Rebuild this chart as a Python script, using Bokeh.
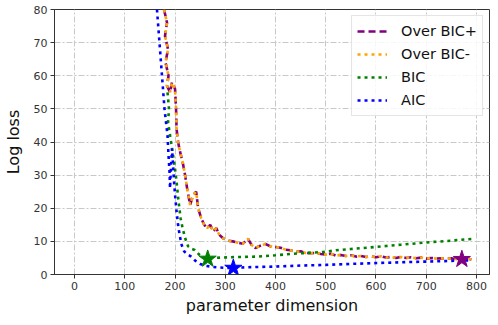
from bokeh.plotting import figure
from bokeh.models import Range1d, FixedTicker, Legend, LegendItem
from bokeh.embed import file_html
from bokeh.resources import INLINE

# ---- data ----
over_plus_x = [178, 184, 180, 186, 181, 187, 184, 190, 194, 200, 202, 203, 206, 210, 215, 220, 224, 230,
               236, 242, 246, 252, 258, 264, 270, 276, 282, 288, 295, 305, 315, 325, 335, 345, 352, 360,
               370, 380, 390, 400, 410, 420, 430, 440, 450, 460, 470, 480, 490, 500, 510, 520, 530, 540,
               550, 560, 570, 580, 590, 600, 610, 620, 630, 640, 650, 660, 670, 680, 690, 700, 710, 720,
               730, 740, 750, 760, 771, 780, 790]
over_plus_y = [80, 76, 72, 68, 64, 60, 57, 55, 58, 56, 50, 44, 40, 37, 34, 30, 26, 21,
               24, 25, 20, 17, 15, 14, 15, 13, 14, 12, 11, 10.2, 10, 9.6, 9.3, 10.8, 9, 8,
               8.7, 9.2, 8.5, 8.3, 8.1, 7.5, 7.3, 6.8, 7.0, 6.5, 6.4, 6.5, 6.2, 6.0, 6.3, 5.7, 5.9, 5.6,
               5.8, 5.4, 5.6, 5.3, 5.5, 5.2, 5.5, 5.1, 5.3, 5.0, 5.3, 5.0, 5.2, 4.9, 5.1, 4.8, 5.0, 4.8,
               4.9, 4.7, 4.9, 4.6, 4.6, 4.8, 4.5]

over_minus_x = over_plus_x
over_minus_y = [80, 76, 72, 68, 64, 60, 57, 55, 58, 56, 50, 44, 40, 37, 34, 30, 26, 21,
                24, 25, 20, 17, 15, 14, 15, 13, 14, 12, 11, 10.2, 10, 9.6, 9.3, 10.8, 9, 8,
                8.7, 9.2, 8.5, 8.3, 8.1, 7.5, 7.3, 6.8, 7.0, 6.5, 6.4, 6.5, 6.2, 6.0, 6.3, 5.7, 5.9, 5.6,
                5.8, 5.4, 5.6, 5.3, 5.5, 5.2, 5.5, 5.1, 5.3, 5.0, 5.3, 5.0, 5.2, 4.9, 5.1, 4.8, 5.0, 4.8,
                4.9, 4.7, 4.9, 4.6, 4.6, 4.8, 4.5]

bic_x = [185, 188, 186, 192, 196, 199, 203, 207, 211, 215, 220, 226, 232, 239, 248, 256, 265, 275,
         290, 310, 330, 363, 400, 430, 460, 494, 520, 550, 590, 620, 650, 680, 710, 740, 770, 790]
bic_y = [55, 50, 46, 40, 36, 33, 28, 22, 17, 14, 11, 8.5, 7.8, 7.4, 6.0, 5.2, 4.8, 5.0,
         5.1, 5.2, 5.3, 5.4, 5.8, 6.2, 6.5, 6.8, 7.3, 7.7, 8.2, 8.6, 9.0, 9.4, 9.8, 10.1, 10.5, 10.7]

aic_x = [164, 167, 170, 173, 176, 179, 182, 185, 187, 189, 190, 192, 194, 196, 198, 200, 203, 206,
         209, 213, 218, 224, 232, 240, 250, 262, 275, 290, 305, 316, 344, 363, 400, 450, 500, 550,
         592, 650, 700, 750, 790]
aic_y = [80, 74, 68, 62, 56, 50, 46, 42, 36, 31, 26, 33, 38, 33, 28, 24, 19, 15,
         12, 9, 7, 6.2, 5.4, 4.2, 3.2, 2.6, 2.3, 2.1, 2.0, 1.95, 2.2, 2.25, 2.4, 2.7, 2.9, 3.2,
         3.4, 3.7, 3.9, 4.1, 4.3]

best_over_x, best_over_y = [771], [4.6]
best_bic_x, best_bic_y = [265], [4.7]
best_aic_x, best_aic_y = [316], [1.95]

x_ticks = [0, 100, 200, 300, 400, 500, 600, 700, 800]
y_ticks = [0, 10, 20, 30, 40, 50, 60, 70, 80]

PURPLE, ORANGE, GREEN, BLUE = "#800080", "#FFA500", "#008000", "#0000FF"

p = figure(width=490, height=317, output_backend="svg", toolbar_location=None,
           x_range=Range1d(-40, 826), y_range=Range1d(0, 80),
           min_border_left=16, min_border_right=1, min_border_top=9, min_border_bottom=0)

p.background_fill_color = "white"
p.border_fill_color = "white"
p.outline_line_color = "#333333"
p.outline_line_width = 1

for ax in (p.xaxis[0], p.yaxis[0]):
    ax.major_label_text_font = "DejaVu Sans"
    ax.major_label_text_font_size = "11px"
    ax.major_label_text_color = "#333333"
    ax.axis_label_text_font = "DejaVu Sans"
    ax.axis_label_text_font_size = "16px"
    ax.axis_label_text_font_style = "normal"
    ax.axis_label_text_color = "#111111"
    ax.axis_line_color = "#333333"
    ax.major_tick_line_color = "#333333"
    ax.major_tick_out = 4
    ax.major_tick_in = 0
    ax.minor_tick_line_color = None
    ax.major_label_standoff = 3

p.xaxis.ticker = FixedTicker(ticks=x_ticks)
p.yaxis.ticker = FixedTicker(ticks=y_ticks)
p.xaxis.axis_label = "parameter dimension"
p.yaxis.axis_label = "Log loss"
p.xaxis.axis_label_standoff = 3
p.yaxis.axis_label_standoff = 8

p.grid.grid_line_color = "#c8c8c8"
p.grid.grid_line_dash = "6 2 2 2"
p.grid.grid_line_width = 1

r_plus = p.line(over_plus_x, over_plus_y, line_color=PURPLE, line_width=2.6, line_dash="7 4")
r_minus = p.line(over_minus_x, over_minus_y, line_color=ORANGE, line_width=2.6, line_dash="3 4")
r_bic = p.line(bic_x, bic_y, line_color=GREEN, line_width=2.6, line_dash="3 4")
r_aic = p.line(aic_x, aic_y, line_color=BLUE, line_width=2.6, line_dash="3 4")

p.scatter(best_bic_x, best_bic_y, marker="star", size=18, fill_color=GREEN, line_color=GREEN)
p.scatter(best_aic_x, best_aic_y, marker="star", size=18, fill_color=BLUE, line_color=BLUE)
p.scatter(best_over_x, best_over_y, marker="star", size=18, fill_color=PURPLE, line_color=PURPLE)

legend = Legend(items=[
    LegendItem(label="Over BIC+", renderers=[r_plus]),
    LegendItem(label="Over BIC-", renderers=[r_minus]),
    LegendItem(label="BIC", renderers=[r_bic]),
    LegendItem(label="AIC", renderers=[r_aic]),
], location="top_right")
legend.label_text_font = "DejaVu Sans"
legend.label_text_font_size = "14.5px"
legend.label_text_color = "#111111"
legend.glyph_width = 30
legend.glyph_height = 18
legend.label_height = 20
legend.spacing = 3
legend.padding = 5
legend.margin = 6
legend.border_line_color = "#cccccc"
legend.border_line_width = 1
legend.background_fill_alpha = 0.85
legend.label_standoff = 14
p.add_layout(legend)

open("out.html", "w").write(file_html(p, INLINE))
